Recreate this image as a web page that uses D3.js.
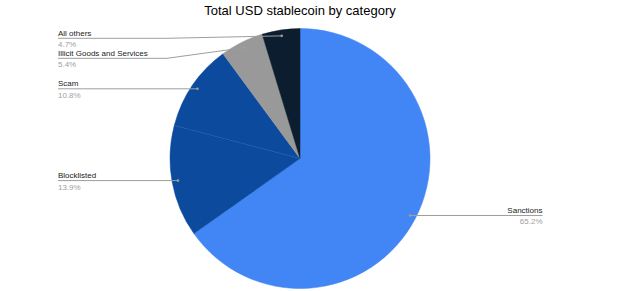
<!DOCTYPE html>
<html><head><meta charset="utf-8">
<script src="https://cdn.jsdelivr.net/npm/d3@7"></script>
<style>body{margin:0;background:#fff}svg{display:block;font-family:Arial,"Liberation Sans",sans-serif}</style>
</head><body><svg id="c" width="636" height="291"></svg>
<script>
const categories = ["Sanctions","Blocklisted","Scam","Illicit Goods and Services","All others"];
const values = [65.2,13.9,10.8,5.4,4.7];
const percentLabels = ["65.2%","13.9%","10.8%","5.4%","4.7%"];
const colors = ["#4285f4","#0b4a9d","#0b4a9d","#999999","#0b1d2e"];
const title = "Total USD stablecoin by category";

const W=636,H=291,cx=300,cy=158.5,R=130;
const svg=d3.select("#c");
svg.append("text").attr("x",300).attr("y",15).attr("text-anchor","middle")
  .attr("font-size",13).attr("fill","#000").text(title);

const data=categories.map((c,i)=>({c,v:values[i],p:percentLabels[i],col:colors[i]}));
const pie=d3.pie().value(d=>d.v).sort(null);
const arcs=pie(data);
const arc=d3.arc().innerRadius(0).outerRadius(R);
const g=svg.append("g").attr("transform",`translate(${cx},${cy})`);
g.selectAll("path").data(arcs).join("path").attr("d",arc).attr("fill",d=>d.data.col)
  .attr("stroke",d=>d.data.col).attr("stroke-width",0.5);
// faint separator between equal-coloured slices
g.append("path").attr("d",()=>{const a=arcs[2].startAngle;return `M0,0L${R*Math.sin(a)},${-R*Math.cos(a)}`;})
  .attr("stroke","#3a6db5").attr("stroke-width",0.6).attr("opacity",0.6);

const dotArc=d3.arc().innerRadius(124*2).outerRadius(0);
const dots=arcs.map(a=>{const m=(a.startAngle+a.endAngle)/2;return {a,x:cx+124*Math.sin(m),y:cy-124*Math.cos(m),right:Math.sin(m)>0};});
// left labels: collision resolution
const left=dots.filter(d=>!d.right).sort((a,b)=>a.y-b.y);
left.forEach((d,i)=>{d.ly=d.y; if(i===0) d.ly=Math.max(d.ly,38.3); else if(d.ly<left[i-1].ly+20) d.ly=left[i-1].ly+20;});
dots.filter(d=>d.right).forEach(d=>d.ly=d.y);

const lg=svg.append("g");
dots.forEach(d=>{
  const lx = d.right?542.5:58;
  let pts;
  if(d.right) pts=[[d.x,d.y],[lx,d.ly]];
  else if(Math.abs(d.ly-d.y)<1.5) pts=[[lx,d.ly],[d.x,d.y]];
  else pts=[[lx,d.ly],[167,d.ly],[d.x,d.y]];
  lg.append("path").attr("d",d3.line()(pts)).attr("fill","none").attr("stroke","#9e9e9e").attr("stroke-width",1);
  lg.append("circle").attr("cx",d.x).attr("cy",d.y).attr("r",1.3).attr("fill","#9e9e9e");
  const anchor=d.right?"end":"start";
  lg.append("text").attr("x",lx).attr("y",d.ly-2.5).attr("text-anchor",anchor).attr("font-size",8).attr("fill","#222").text(d.a.data.c);
  lg.append("text").attr("x",lx).attr("y",d.ly+9).attr("text-anchor",anchor).attr("font-size",8).attr("fill","#a0a0a0").text(d.a.data.p);
});
</script></body></html>
